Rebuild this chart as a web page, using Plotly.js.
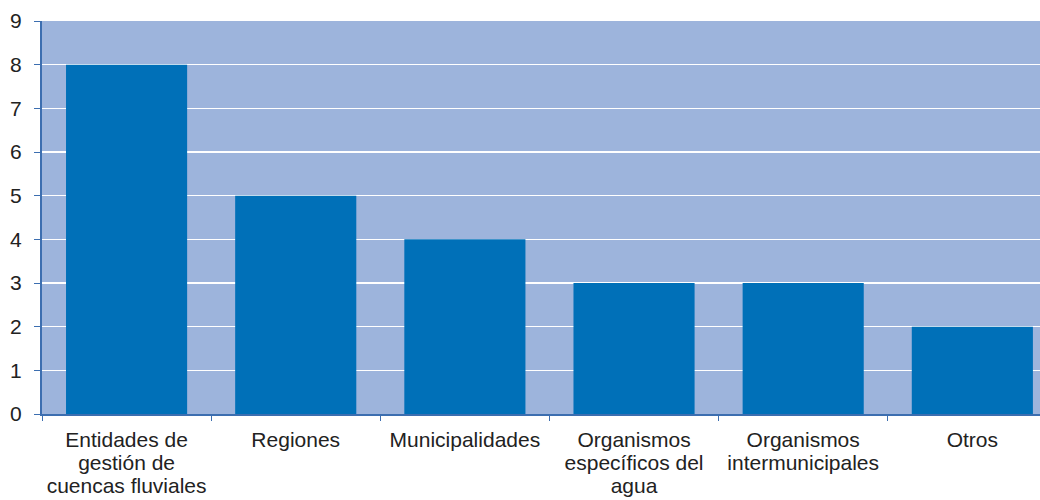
<!DOCTYPE html>
<html>
<head>
<meta charset="utf-8">
<script src="https://cdn.plot.ly/plotly-3.0.1.min.js"></script>
<style>html,body{margin:0;padding:0;background:#fff;overflow:hidden}#chart{width:1040px;height:500px}</style>
</head>
<body>
<div id="chart"></div>
<script>
const categories = [
  "Entidades de<br>gestión de<br>cuencas fluviales",
  "Regiones",
  "Municipalidades",
  "Organismos<br>específicos del<br>agua",
  "Organismos<br>intermunicipales",
  "Otros"
];
const values = [8, 5, 4, 3, 3, 2];
const yTicks = [0, 1, 2, 3, 4, 5, 6, 7, 8, 9];

const trace = {
  type: "bar",
  x: categories,
  y: values,
  marker: { color: "#0070B8", line: { width: 0 } },
  hoverinfo: "x+y"
};

const layout = {
  width: 1040,
  height: 500,
  margin: { l: 42, r: 0, t: 21, b: 86 },
  paper_bgcolor: "#ffffff",
  plot_bgcolor: "#9DB4DC",
  bargap: 0.284,
  showlegend: false,
  font: { family: "Liberation Sans, Arial, sans-serif", size: 21, color: "#222222" },
  xaxis: {
    type: "category",
    range: [-0.5, 5.4],
    showgrid: false,
    showline: true,
    linecolor: "#3C6EB0",
    linewidth: 2,
    ticks: "outside",
    tickson: "boundaries",
    ticklen: 5,
    tickcolor: "#3C6EB0",
    tickwidth: 1,
    tickangle: 0,
    ticklabelstandoff: 6,
    tickfont: { size: 21, color: "#222222" },
    fixedrange: true
  },
  yaxis: {
    range: [0, 9],
    tickvals: yTicks,
    ticktext: yTicks.map(String),
    showgrid: true,
    gridcolor: "#ffffff",
    gridwidth: 1.5,
    zeroline: false,
    showline: true,
    linecolor: "#3C6EB0",
    linewidth: 2,
    ticks: "outside",
    ticklen: 6,
    tickcolor: "#3C6EB0",
    tickwidth: 1,
    ticklabelstandoff: 8,
    tickfont: { size: 21, color: "#222222" },
    fixedrange: true
  }
};

function tightenLines() {
  document.querySelectorAll("#chart .xtick text tspan.line").forEach(function (t) {
    const dy = t.getAttribute("dy");
    if (dy && dy.indexOf("em") > 0 && parseFloat(dy) !== 0) {
      t.setAttribute("dy", (parseFloat(dy) / 1.3 * 1.08).toFixed(3) + "em");
    }
  });
}

Plotly.newPlot("chart", [trace], layout, { displayModeBar: false, staticPlot: true }).then(tightenLines);
</script>
</body>
</html>
